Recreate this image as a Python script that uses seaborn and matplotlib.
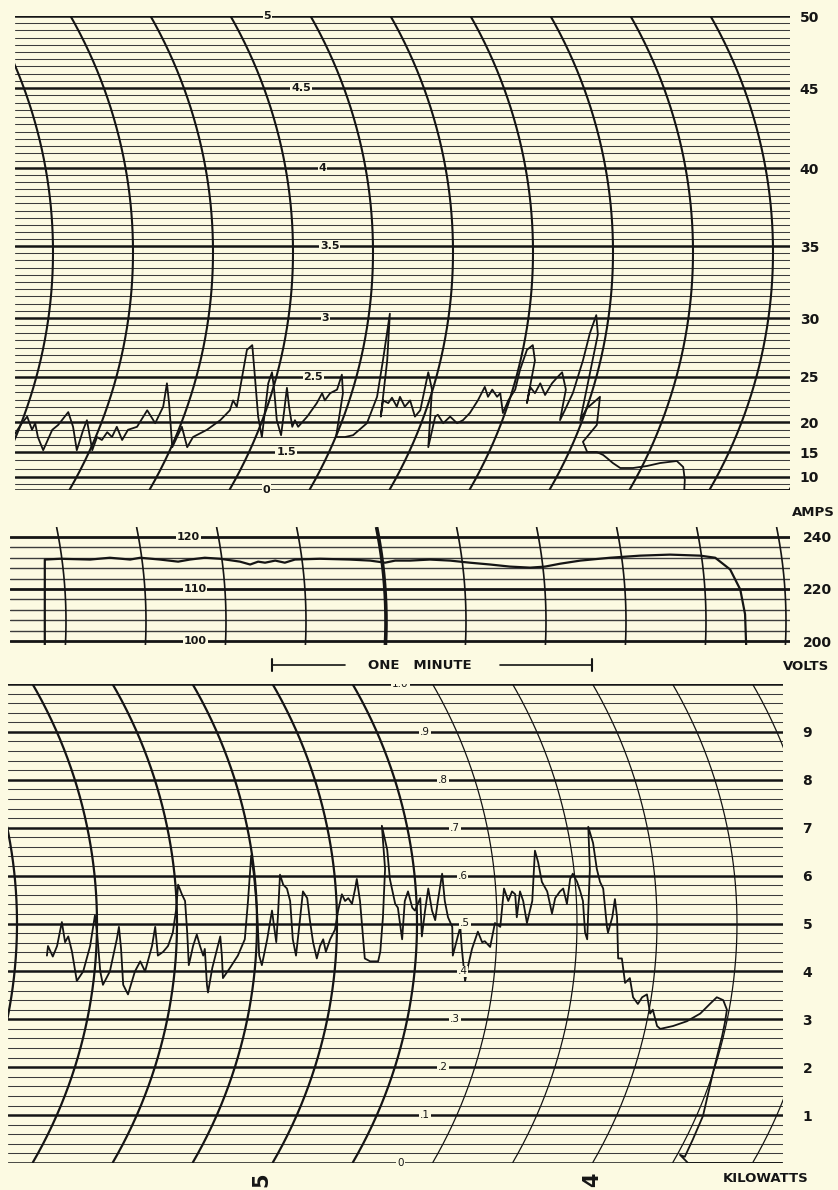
import numpy as np
import pandas as pd
import matplotlib
matplotlib.use("Agg")
import matplotlib.pyplot as plt
import seaborn as sns

# ---------------- data (read from the recording) ----------------
AMP_TICKS = [10, 15, 20, 25, 30, 35, 40, 45, 50]
AMP_INNER_VALUES = [50, 45, 40, 35, 30, 25, 15, 0]
AMP_INNER_LABELS = ["5", "4.5", "4", "3.5", "3", "2.5", "1.5", "0"]
VOLT_TICKS = [200, 220, 240]
VOLT_INNER_VALUES = [240, 220, 200]
VOLT_INNER_LABELS = ["120", "110", "100"]
KW_TICKS = [1, 2, 3, 4, 5, 6, 7, 8, 9]
KW_INNER_VALUES = [10, 9, 8, 7, 6, 5, 4, 3, 2, 1, 0]
KW_INNER_LABELS = ["1.0", ".9", ".8", ".7", ".6", ".5", ".4", ".3", ".2", ".1", "0"]
MINUTE_MARKS_T = [49.1, 111.0]
MINUTE_MARKS_LABELS = ["5", "4"]
ONE_MINUTE = 60.0

# current trace: time (s), amperes
amp_time = [2.4, 4.1, 5.1, 6.0, 6.6, 7.1, 8.1, 9.8, 10.9, 12.8, 13.7, 14.4, 15.6, 16.3, 17.3,
            18.2, 19.1, 20.1, 21.0, 21.9, 22.9, 24.0, 25.7, 27.6, 29.1, 30.6, 31.3, 31.7, 32.3,
            33.2, 34.1, 35.1, 36.2, 38.8, 41.3, 43.1, 43.7, 44.4, 45.4, 46.3, 47.3, 47.8, 48.4,
            49.1, 49.7, 50.3, 51.0, 51.4, 51.9, 52.7, 53.3, 53.8, 54.2, 54.8, 55.3, 55.9, 57.6,
            59.4, 60.4, 60.9, 61.9, 63.2, 64.1, 64.3, 63.0, 64.7, 66.2, 68.8, 70.7, 71.8, 73.1,
            72.6, 71.4, 71.8, 72.8, 73.5, 74.4, 75.0, 75.9, 76.9, 77.8, 78.8, 80.3, 81.0, 80.3,
            81.6, 82.1, 83.1, 84.4, 85.7, 86.8, 88.1, 89.6, 90.9, 91.5, 92.3, 93.2, 93.8, 94.3,
            95.3, 96.6, 97.5, 98.8, 99.9, 100.3, 98.8, 99.4, 100.3, 101.3, 102.2, 103.5, 104.4,
            105.4, 106.1, 105.0, 105.9, 107.4, 109.3, 110.6, 111.8, 112.1, 108.8, 110.0, 112.5,
            111.9, 109.3, 110.1, 111.9, 113.1, 113.8, 114.9, 116.3, 118.7, 121.3, 123.8, 126.9,
            128.1, 128.4, 128.3, 148.1]
amp_value = [17.5, 19.8, 20.6, 18.7, 19.8, 17.5, 15.3, 18.7, 19.5, 21.1, 19.2, 15.3, 18.7, 20.2,
             15.3, 17.5, 17.0, 18.3, 17.5, 19.2, 17.0, 18.7, 19.2, 21.3, 19.8, 21.7, 24.3, 22.1,
             15.8, 17.5, 19.2, 15.8, 17.5, 18.7, 20.2, 21.3, 22.4, 21.7, 25.0, 27.3, 27.7, 25.0,
             20.6, 17.5, 21.3, 24.3, 25.4, 23.6, 20.2, 17.8, 21.3, 23.8, 21.7, 19.2, 20.2, 19.2,
             20.6, 22.1, 23.2, 22.4, 23.2, 23.6, 25.2, 23.2, 17.5, 17.5, 17.8, 19.8, 22.8, 26.4,
             30.3, 26.4, 20.6, 22.4, 22.1, 22.7, 21.7, 22.8, 21.7, 22.4, 20.6, 21.3, 25.4, 23.6,
             15.8, 20.6, 20.8, 19.8, 20.6, 19.8, 20.2, 21.0, 22.4, 23.9, 22.8, 23.6, 22.8, 23.2,
             21.0, 22.4, 23.6, 25.6, 27.3, 27.7, 26.4, 22.1, 23.9, 23.2, 24.3, 23.0, 24.3, 24.9,
             25.4, 23.6, 20.2, 21.3, 23.2, 26.4, 28.7, 30.2, 28.6, 20.2, 21.5, 22.8, 19.5, 16.7,
             15.0, 15.0, 14.4, 13.8, 12.8, 11.8, 11.8, 12.2, 12.8, 13.2, 12.0, 7.7, 0.0, 0.0]

# voltage trace: time (s), volts
volt_time = [8.4, 8.4, 11.3, 16.9, 20.6, 24.4, 26.3, 30.0, 33.4, 35.6, 38.4, 41.3, 45.0, 46.9,
             48.4, 49.7, 51.6, 53.4, 55.3, 60.0, 65.6, 69.4, 72.2, 74.1, 76.9, 80.6, 84.4, 88.1,
             91.9, 95.6, 99.4, 102.2, 105.0, 108.8, 114.4, 120.0, 125.6, 131.3, 134.1, 136.9,
             138.8, 139.7, 139.9]
volt_value = [198.5, 231.3, 231.6, 231.3, 232.0, 231.3, 232.0, 231.3, 230.5, 231.3, 232.0, 231.6,
              230.5, 229.4, 230.5, 230.1, 230.9, 230.1, 231.3, 231.6, 231.3, 230.9, 230.1, 230.9,
              230.9, 231.3, 230.9, 230.1, 229.4, 228.6, 228.2, 228.6, 229.7, 230.9, 232.0, 232.8,
              233.2, 232.8, 232.0, 227.5, 219.8, 210.3, 198.5]

# power trace: time (s), kilowatts
kw_time = [8.8, 9.0, 9.9, 10.7, 11.6, 12.2, 12.8, 13.5, 14.4, 15.6, 16.9, 17.8, 18.2, 18.8, 19.3,
           20.6, 21.9, 22.3, 22.7, 23.1, 24.0, 25.3, 26.3, 27.2, 28.5, 29.1, 29.6, 30.6, 31.5,
           32.4, 33.0, 33.4, 34.1, 34.7, 35.1, 35.4, 36.2, 36.9, 37.5, 38.1, 38.4, 38.8, 39.0,
           39.8, 40.7, 41.3, 41.6, 41.8, 43.1, 44.6, 45.9, 46.5, 47.1, 47.6, 48.2, 48.6, 49.1,
           50.1, 51.0, 51.4, 51.8, 52.1, 52.5, 53.1, 53.8, 54.4, 54.9, 55.5, 56.1, 56.8, 57.6,
           58.1, 58.7, 59.4, 60.0, 60.6, 61.1, 61.9, 62.8, 63.4, 64.1, 64.7, 65.3, 66.0, 66.6,
           66.9, 67.5, 67.9, 68.1, 68.4, 69.4, 70.9, 71.3, 71.8, 72.2, 71.6, 72.6, 73.1, 74.1,
           74.6, 75.4, 75.9, 76.5, 77.3, 77.8, 78.8, 79.1, 79.7, 80.3, 81.0, 81.6, 82.1, 82.9,
           83.4, 84.0, 84.8, 84.9, 85.7, 86.3, 86.6, 87.2, 87.8, 88.5, 89.6, 90.4, 90.9, 91.9,
           92.8, 93.8, 94.5, 95.3, 96.0, 96.6, 96.9, 97.5, 98.1, 98.8, 99.8, 100.3, 100.9, 101.6,
           102.6, 103.5, 104.1, 105.0, 105.6, 106.3, 106.9, 107.4, 108.2, 108.8, 109.3, 109.7,
           110.1, 110.6, 110.3, 111.2, 111.9, 112.5, 113.1, 113.8, 114.0, 114.8, 115.3, 115.7,
           115.9, 116.6, 117.2, 118.1, 118.7, 119.6, 120.4, 121.3, 121.9, 122.4, 123.2, 123.8,
           126.2, 128.8, 131.3, 133.1, 134.4, 135.6, 136.3, 135.9, 135.4, 133.7, 131.8, 129.9,
           128.4, 127.5, 129.0, 146.6]
kw_value = [4.33, 4.53, 4.31, 4.53, 5.03, 4.61, 4.73, 4.41, 3.80, 4.00, 4.53, 5.17, 4.81, 4.00,
            3.72, 4.00, 4.67, 4.93, 4.47, 3.72, 3.52, 4.00, 4.21, 4.00, 4.53, 4.93, 4.33, 4.41,
            4.53, 4.81, 5.27, 5.81, 5.61, 5.47, 4.81, 4.13, 4.53, 4.77, 4.53, 4.33, 4.47, 3.72,
            3.56, 4.07, 4.47, 4.73, 4.33, 3.86, 4.07, 4.33, 4.67, 5.47, 6.42, 6.02, 5.27, 4.33,
            4.13, 4.67, 5.27, 4.93, 4.61, 5.13, 6.02, 5.81, 5.73, 5.47, 4.67, 4.33, 4.93, 5.67,
            5.53, 5.07, 4.61, 4.27, 4.53, 4.67, 4.41, 4.67, 4.87, 5.27, 5.61, 5.47, 5.53, 5.41,
            5.73, 5.93, 5.47, 4.93, 4.67, 4.27, 4.21, 4.21, 4.41, 5.13, 6.14, 7.04, 6.54, 5.93,
            5.41, 5.33, 4.67, 5.47, 5.67, 5.33, 5.27, 5.53, 4.73, 5.27, 5.73, 5.27, 5.07, 5.47,
            6.04, 5.47, 5.13, 4.93, 4.33, 4.67, 4.93, 4.47, 3.80, 4.13, 4.47, 4.83, 4.61, 4.63,
            4.51, 5.01, 4.93, 5.73, 5.47, 5.67, 5.61, 5.13, 5.67, 5.47, 5.01, 5.47, 6.52, 6.28,
            5.87, 5.67, 5.21, 5.53, 5.67, 5.73, 5.41, 5.93, 6.04, 5.87, 5.67, 5.47, 4.81, 4.67,
            6.14, 7.02, 6.68, 6.14, 5.87, 5.73, 4.93, 4.81, 5.13, 5.51, 5.13, 4.27, 4.27, 3.76,
            3.86, 3.46, 3.32, 3.46, 3.52, 3.12, 3.20, 2.86, 2.80, 2.86, 2.96, 3.12, 3.32, 3.46,
            3.40, 3.20, 2.92, 2.65, 1.89, 0.98, 0.49, 0.13, 0.17, 0.0, 0.0]

# meter calibration of the (non-linear) ammeter scale
AMP_SCALE_VALUES = np.array([-10, 0, 10, 15, 20, 25, 30, 35, 40, 45, 50, 60], dtype=float)
AMP_SCALE_HEIGHT = np.array([-13, 0, 13, 38, 68, 113, 172, 244, 322, 402, 474, 618], dtype=float)

# ---------------- styling ----------------
BG = "#fcfae2"
INK = "#151515"
RULE = "#3c3c3c"

sns.set_theme(style="white", rc={"figure.facecolor": BG, "axes.facecolor": BG,
                                 "savefig.facecolor": BG})
plt.rcParams["font.family"] = ["DejaVu Sans"]

W, H = 838, 1190
SPP = 15.0 / 80.0          # seconds per pixel of chart paper
RADIUS = 477.0             # pen-arm radius in pixels

fig = plt.figure(figsize=(W / 100, H / 100), dpi=100)


def axes_px(left, top, right, bottom):
    ax = fig.add_axes([left / W, 1 - bottom / H, (right - left) / W, (bottom - top) / H])
    ax.set_xlim(left * SPP, right * SPP)
    for s in ax.spines.values():
        s.set_visible(False)
    return ax


ax_a = axes_px(15, 16, 790, 490)
ax_v = axes_px(10, 527, 790, 645)
ax_k = axes_px(8, 684, 783, 1163)

ax_a.set_yscale("function", functions=(lambda v: np.interp(v, AMP_SCALE_VALUES, AMP_SCALE_HEIGHT),
                                       lambda h: np.interp(h, AMP_SCALE_HEIGHT, AMP_SCALE_VALUES)))
fwd = lambda v: np.interp(v, AMP_SCALE_VALUES, AMP_SCALE_HEIGHT)

# traces
df_a = pd.DataFrame({"t": amp_time, "amps": amp_value})
df_v = pd.DataFrame({"t": volt_time, "volts": volt_value})
df_k = pd.DataFrame({"t": kw_time, "kw": kw_value})
sns.lineplot(data=df_a, x="t", y="amps", sort=False, estimator=None, color=INK, lw=1.3, ax=ax_a, zorder=5)
sns.lineplot(data=df_v, x="t", y="volts", sort=False, estimator=None, color=INK, lw=1.6, ax=ax_v, zorder=5)
sns.lineplot(data=df_k, x="t", y="kw", sort=False, estimator=None, color=INK, lw=1.3, ax=ax_k, zorder=5)

ax_a.set_xlim(15 * SPP, 790 * SPP); ax_a.set_ylim(0, 50)
ax_v.set_xlim(10 * SPP, 790 * SPP); ax_v.set_ylim(198.5, 243.8)
ax_k.set_xlim(8 * SPP, 783 * SPP); ax_k.set_ylim(0, 10)

# ruled horizontal lines
marks = [0] + AMP_TICKS
for a, b in zip(marks[:-1], marks[1:]):
    n = max(1, int(round((fwd(b) - fwd(a)) / 7.2)))
    for v in np.linspace(a, b, n + 1)[1:-1]:
        ax_a.axhline(v, color=RULE, lw=0.75, zorder=1)
for m in marks:
    ax_a.axhline(m, color=INK, lw=1.8, zorder=2)

for v in np.arange(200, 241, 4):
    if v in VOLT_TICKS:
        ax_v.axhline(v, color=INK, lw=2.0, zorder=2)
    else:
        ax_v.axhline(v, color=RULE, lw=1.0, zorder=1)

for v in np.round(np.arange(0, 10.01, 0.2), 1):
    if abs(v - round(v)) < 1e-6:
        ax_k.axhline(v, color=INK, lw=1.8, zorder=2)
    else:
        ax_k.axhline(v, color=RULE, lw=0.75, zorder=1)


# time arcs (pen-arm arcs of the recording paper)
def arc_offset_s(yf, h_px, yv):
    dy = (np.asarray(yf) - yv) * h_px
    return (RADIUS - np.sqrt(RADIUS ** 2 - dy ** 2)) * SPP


def draw_arcs(ax, t0, h_px, yv, lw_for):
    yf = np.linspace(0, 1, 200)
    off = arc_offset_s(yf, h_px, yv)
    for k in range(-1, 13):
        tv = t0 + 15.0 * k
        ax.plot(tv - off, yf, transform=ax.get_xaxis_transform(), color=INK,
                lw=lw_for(k), zorder=3, solid_capstyle="butt")


draw_arcs(ax_a, 53 * SPP, 474, 0.502, lambda k: 1.5)
draw_arcs(ax_v, 66 * SPP, 118, 0.2, lambda k: 2.6 if k == 4 else 1.2)
draw_arcs(ax_k, 17 * SPP, 479, 0.5, lambda k: 1.6 if k <= 5 else 0.9)


def yfrac_of(ax, v):
    return ax.transAxes.inverted().transform(ax.transData.transform((ax.get_xlim()[0], v)))[1]


def inner_labels(ax, t_vertex, h_px, yv, values, labels, size, weight, clip_first=False):
    for i, (v, lab) in enumerate(zip(values, labels)):
        yf = yfrac_of(ax, v)
        x = t_vertex - arc_offset_s(yf, h_px, yv)
        ax.text(x, v, lab, ha="center", va="center", fontsize=size, fontweight=weight,
                color=INK, zorder=6, clip_on=(clip_first and i == 0),
                bbox=dict(facecolor=BG, edgecolor="none", pad=0.6))


inner_labels(ax_a, 330 * SPP, 474, 0.502, AMP_INNER_VALUES, AMP_INNER_LABELS, 8, "bold")
inner_labels(ax_v, 196 * SPP, 118, 0.2, VOLT_INNER_VALUES, VOLT_INNER_LABELS, 8, "bold")
inner_labels(ax_k, 465 * SPP, 479, 0.5, KW_INNER_VALUES, KW_INNER_LABELS, 7.5, "normal", clip_first=True)

# right-hand scales
for ax, ticks, pad in ((ax_a, AMP_TICKS, 7), (ax_v, VOLT_TICKS, 9), (ax_k, KW_TICKS, 14)):
    ax.yaxis.tick_right()
    ax.set_yticks(ticks)
    ax.set_yticklabels([str(t) for t in ticks])
    ax.minorticks_off()
    ax.tick_params(axis="y", length=0, pad=pad, labelsize=10, labelcolor=INK)
    for lab in ax.get_yticklabels():
        lab.set_fontweight("bold")
    ax.set_xticks([])
    ax.set_xlabel("")
    ax.set_ylabel("")

# unit captions
fig.text(813 / W, 1 - 512 / H, "AMPS", ha="center", va="center", fontsize=9.5, fontweight="bold", color=INK)
fig.text(806 / W, 1 - 666 / H, "VOLTS", ha="center", va="center", fontsize=9.5, fontweight="bold", color=INK)
fig.text(766 / W, 1 - 1178 / H, "KILOWATTS", ha="center", va="center", fontsize=9.5, fontweight="bold", color=INK)

# one-minute bar
bar_t0 = 272 * SPP
bar_t1 = bar_t0 + ONE_MINUTE
tx = ax_v.get_xaxis_transform()
ybar = -0.17
ax_v.plot([bar_t0, 345 * SPP], [ybar, ybar], transform=tx, color=INK, lw=1.2, clip_on=False)
ax_v.plot([500 * SPP, bar_t1], [ybar, ybar], transform=tx, color=INK, lw=1.2, clip_on=False)
for tt in (bar_t0, bar_t1):
    ax_v.plot([tt, tt], [ybar - 0.05, ybar + 0.05], transform=tx, color=INK, lw=1.5, clip_on=False)
ax_v.text(420 * SPP, ybar, "ONE   MINUTE", transform=tx, ha="center", va="center",
          fontsize=9.5, fontweight="bold", color=INK)

# minute marks printed under the chart
for tt, lab in zip(MINUTE_MARKS_T, MINUTE_MARKS_LABELS):
    ax_k.text(tt, -0.035, lab, transform=ax_k.get_xaxis_transform(), rotation=90,
              ha="center", va="center", fontsize=15, fontweight="bold", color=INK, clip_on=False)

fig.savefig("out.png", dpi=100, facecolor=BG)
